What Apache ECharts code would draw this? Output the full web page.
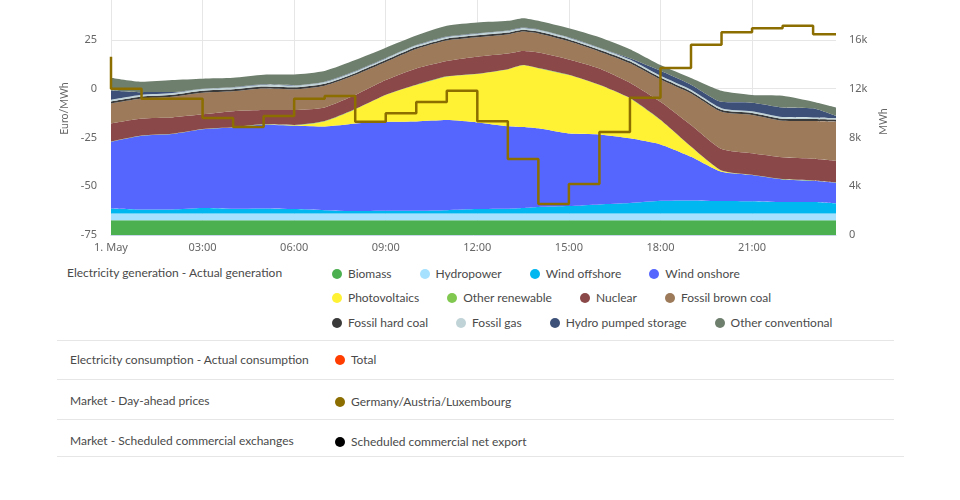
<!DOCTYPE html>
<html>
<head>
<meta charset="UTF-8"/>
<title>Electricity generation and prices, 1 May</title>
<script src="https://cdn.jsdelivr.net/npm/echarts@6/dist/echarts.min.js"></script>
<style>
html,body{margin:0;padding:0;background:#fff;}
body{width:960px;height:500px;position:relative;overflow:hidden;font-family:Lato,sans-serif;font-size:12px;color:#4a4a4a;}
#chart{position:absolute;left:0;top:0;width:960px;height:260px;}
.rowlabel{position:absolute;white-space:nowrap;}
.items{position:absolute;display:flex;gap:28px;white-space:nowrap;}
.item{display:flex;align-items:center;}
.dot{display:inline-block;width:10px;height:10px;border-radius:50%;margin-right:6px;}
.sep{position:absolute;left:57px;height:1px;background:#e6e6e6;}
</style>
</head>
<body>
<div id="chart"></div>
<div id="legend"></div>
<script type="text/javascript">
// hour of day for the generation series
var hours = [0,1,2,3,4,5,6,7,8,9,10,11,12,13,13.5,14,15,16,17,18,19,20,21,22,23,23.75];

// generation, MWh
var biomass = [1200,1200,1200,1200,1200,1200,1200,1200,1200,1200,1200,1200,1200,1200,1200,1200,1200,1200,1200,1200,1200,1200,1200,1200,1200,1200];
var hydropower = [570,570,570,570,570,570,570,570,570,570,570,570,570,570,570,570,570,570,570,570,570,570,570,570,570,570];
var windOffshore = [410,330,330,440,380,410,360,270,190,220,220,270,360,380,440,520,600,740,850,1040,1070,1010,990,930,930,820];
var windOnshore = [5470,6040,6180,6460,6670,6870,6840,6870,7190,7300,7330,7390,7110,6780,6650,6460,5960,5740,5310,4620,3580,2410,2160,1860,1750,1700];
var photovoltaics = [0,0,0,0,0,0,30,410,1150,2190,2980,3560,3970,4650,5060,4920,4790,4050,3280,2000,820,80,0,0,0,0];
var otherRenewable = [30,30,30,30,30,30,30,30,30,30,30,30,30,30,30,30,30,30,30,30,30,30,30,30,30,30];
var nuclear = [1470,1390,1340,1200,1310,1170,1230,1120,1150,1200,1340,1260,1390,1280,1150,1280,1260,1340,1260,1470,1750,1750,1750,1780,1780,1780];
var brownCoal = [1640,1640,1700,1780,1640,1780,1700,1780,1640,1480,1590,1670,1590,1560,1590,1560,1480,1370,1590,1830,2600,3060,3150,3010,3090,3200];
var hardCoal = [160,160,160,160,160,160,160,160,160,160,160,160,160,160,160,160,160,160,160,160,160,160,160,160,160,160];
var fossilGas = [140,140,140,140,140,140,140,140,140,140,140,140,140,140,140,140,140,140,140,140,140,140,140,140,140,140];
var pumpedStorage = [770,220,80,30,30,30,30,30,30,30,30,30,30,30,30,30,30,30,110,410,410,520,710,790,740,160];
var otherConventional = [1040,850,990,820,770,790,880,880,900,850,770,880,880,790,770,710,740,850,740,470,550,900,630,960,550,710];

// day-ahead price, Euro/MWh; first value is the previous hour at the left edge
var priceHours = [0,0,1,2,3,4,5,6,7,8,9,10,11,12,13,14,15,16,17,18,19,20,21,22,23,23.75];
var prices = [16.4,0,-5.1,-5.1,-15,-19.6,-14,-5.1,-3.7,-16.9,-12.6,-6.8,-1,-16.7,-36,-59.1,-48.8,-22.2,-4.6,10.6,22.6,28.9,31,32.3,27.9,27.9];

var generationSeries = [
  ['Biomass', biomass, '#4caf50'],
  ['Hydropower', hydropower, '#a6e1ff'],
  ['Wind offshore', windOffshore, '#00b7f0'],
  ['Wind onshore', windOnshore, '#5566ff'],
  ['Photovoltaics', photovoltaics, '#fff133'],
  ['Other renewable', otherRenewable, '#80c850'],
  ['Nuclear', nuclear, '#8b4848'],
  ['Fossil brown coal', brownCoal, '#9c7a5a'],
  ['Fossil hard coal', hardCoal, '#3a3a3a'],
  ['Fossil gas', fossilGas, '#c0d4d8'],
  ['Hydro pumped storage', pumpedStorage, '#3d5078'],
  ['Other conventional', otherConventional, '#6e7f6e']
];

var textColor = '#666';
var fontName = 'Noto Sans';
var HOUR = 3600000;
var day = Date.UTC(2020, 4, 1);

function toTime(h) { return day + h * HOUR; }

// stacking needs a time axis, the visible hour axis is a second x axis on the same grid
var series = generationSeries.map(function (s) {
  return {
    name: s[0],
    type: 'line',
    stack: 'generation',
    xAxisIndex: 1,
    yAxisIndex: 1,
    showSymbol: false,
    smooth: 0.2,
    lineStyle: {width: 0},
    areaStyle: {color: s[2], opacity: 1},
    itemStyle: {color: s[2]},
    data: hours.map(function (h, i) { return [toTime(h), s[1][i]]; })
  };
});
series.push({
  name: 'Germany/Austria/Luxembourg',
  type: 'line',
  step: 'end',
  xAxisIndex: 0,
  yAxisIndex: 0,
  showSymbol: false,
  z: 5,
  lineStyle: {color: '#8b6d00', width: 2.5},
  data: priceHours.map(function (h, i) { return [h, prices[i]]; })
});

var myChart = echarts.init(document.getElementById('chart'));
myChart.setOption({
  animation: false,
  grid: {left: 111, right: 124, top: 0, bottom: 25},
  xAxis: [
    {
      type: 'value',
      min: 0,
      max: 23.75,
      interval: 3,
      axisLine: {show: true, onZero: false, lineStyle: {color: '#ccd6eb'}},
      axisTick: {show: false},
      splitLine: {show: true, showMaxLine: false, lineStyle: {color: '#e6e6e6'}},
      axisLabel: {
        color: textColor, fontFamily: fontName, fontSize: 11, margin: 7, showMaxLabel: false,
        formatter: function (h) {
          if (h === 0) return '1. May';
          return (h < 10 ? '0' + h : h) + ':00';
        }
      }
    },
    {
      type: 'time',
      min: toTime(0),
      max: toTime(23.75),
      show: false
    }
  ],
  yAxis: [
    {
      type: 'value',
      min: -75,
      max: 45.5,
      interval: 25,
      name: 'Euro/MWh',
      nameLocation: 'middle',
      nameGap: 41,
      nameTextStyle: {color: textColor, fontFamily: 'Lato', fontSize: 10.5, padding: [0, 0, 0, 18]},
      axisLine: {show: false},
      axisTick: {show: false},
      splitLine: {show: true, showMaxLine: false, lineStyle: {color: '#e6e6e6'}},
      axisLabel: {color: textColor, fontFamily: fontName, fontSize: 11, margin: 14, showMaxLabel: false}
    },
    {
      type: 'value',
      min: 0,
      max: 19282,
      interval: 4000,
      name: 'MWh',
      nameLocation: 'middle',
      nameGap: 41,
      nameTextStyle: {color: textColor, fontFamily: 'Lato', fontSize: 10.5, padding: [0, 8, 0, 0]},
      axisLine: {show: false},
      axisTick: {show: false},
      splitLine: {show: false},
      axisLabel: {
        color: textColor, fontFamily: fontName, fontSize: 11, margin: 13, showMaxLabel: false,
        formatter: function (v) { return v === 0 ? '0' : (v / 1000) + 'k'; }
      }
    }
  ],
  series: series
});

// legend table below the chart
var rowLabels = [
  ['Electricity generation - Actual generation', 67, 265],
  ['Electricity consumption - Actual consumption', 70, 352],
  ['Market - Day-ahead prices', 70, 393],
  ['Market - Scheduled commercial exchanges', 70, 433]
];
var legendRows = [
  [[0, 1, 2, 3], 332, 266],
  [[4, 5, 6, 7], 332, 290],
  [[8, 9, 10, 11], 332, 315]
];
var singleRows = [
  ['Total', '#ff3d00', 335, 352],
  ['Germany/Austria/Luxembourg', '#8b6d00', 335, 394],
  ['Scheduled commercial net export', '#000000', 335, 434]
];
var separators = [[340, 837], [379, 837], [419, 837], [456, 847]];

var legend = document.getElementById('legend');
function addItem(parent, name, color) {
  var item = document.createElement('span');
  item.className = 'item';
  item.innerHTML = '<i class="dot" style="background:' + color + '"></i>' + name;
  parent.appendChild(item);
}
function addItems(left, top) {
  var box = document.createElement('div');
  box.className = 'items';
  box.style.left = left + 'px';
  box.style.top = top + 'px';
  legend.appendChild(box);
  return box;
}
rowLabels.forEach(function (r) {
  var d = document.createElement('div');
  d.className = 'rowlabel';
  d.style.left = r[1] + 'px';
  d.style.top = r[2] + 'px';
  d.textContent = r[0];
  legend.appendChild(d);
});
legendRows.forEach(function (r) {
  var box = addItems(r[1], r[2]);
  r[0].forEach(function (i) { addItem(box, generationSeries[i][0], generationSeries[i][2]); });
});
singleRows.forEach(function (r) {
  addItem(addItems(r[2], r[3]), r[0], r[1]);
});
separators.forEach(function (s) {
  var d = document.createElement('div');
  d.className = 'sep';
  d.style.top = s[0] + 'px';
  d.style.width = s[1] + 'px';
  legend.appendChild(d);
});
</script>
</body>
</html>
